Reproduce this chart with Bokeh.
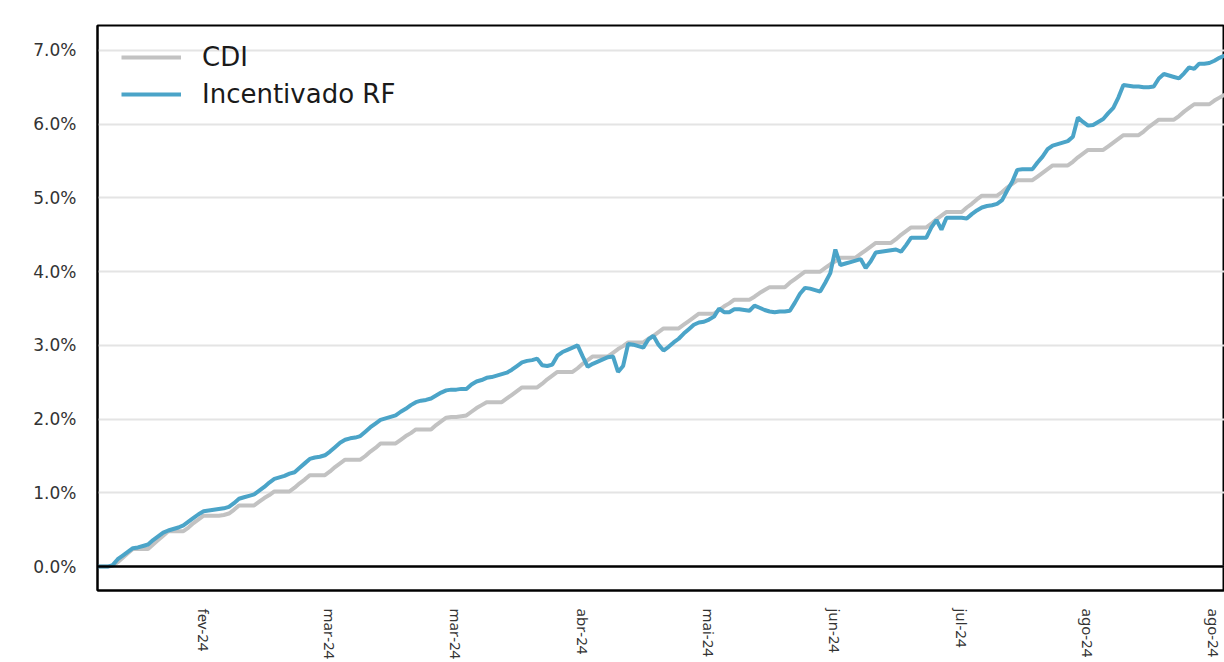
import pandas as pd
from bokeh.plotting import figure
from bokeh.models import (ColumnDataSource, Range1d, FixedTicker, PrintfTickFormatter,
                          CustomJSTickFormatter, Span, Legend, LegendItem)
from bokeh.embed import file_html
from bokeh.resources import INLINE

# ---------------- data (cumulative return, %) ----------------
start_date = "2024-01-19"   # daily (calendar-day) series

cdi = [
    0.00, 0.00, 0.00, 0.01, 0.06, 0.12, 0.18,
    0.24, 0.24, 0.24, 0.24, 0.30, 0.36, 0.42,
    0.48, 0.48, 0.48, 0.48, 0.53, 0.59, 0.64,
    0.69, 0.69, 0.69, 0.69, 0.70, 0.72, 0.77,
    0.83, 0.83, 0.83, 0.83, 0.88, 0.93, 0.97,
    1.02, 1.02, 1.02, 1.02, 1.07, 1.13, 1.18,
    1.24, 1.24, 1.24, 1.24, 1.29, 1.35, 1.40,
    1.45, 1.45, 1.45, 1.45, 1.50, 1.56, 1.61,
    1.67, 1.67, 1.67, 1.67, 1.72, 1.77, 1.81,
    1.86, 1.86, 1.86, 1.86, 1.92, 1.97, 2.02,
    2.03, 2.03, 2.04, 2.05, 2.10, 2.15, 2.19,
    2.23, 2.23, 2.23, 2.23, 2.28, 2.33, 2.38,
    2.43, 2.43, 2.43, 2.43, 2.48, 2.54, 2.59,
    2.64, 2.64, 2.64, 2.64, 2.69, 2.75, 2.80,
    2.85, 2.85, 2.85, 2.85, 2.90, 2.95, 2.99,
    3.04, 3.04, 3.04, 3.04, 3.09, 3.13, 3.18,
    3.23, 3.23, 3.23, 3.23, 3.28, 3.33, 3.38,
    3.43, 3.43, 3.43, 3.43, 3.48, 3.53, 3.57,
    3.62, 3.62, 3.62, 3.62, 3.66, 3.71, 3.75,
    3.79, 3.79, 3.79, 3.79, 3.85, 3.90, 3.95,
    4.00, 4.00, 4.00, 4.00, 4.05, 4.10, 4.14,
    4.19, 4.19, 4.19, 4.19, 4.24, 4.29, 4.34,
    4.39, 4.39, 4.39, 4.39, 4.44, 4.50, 4.55,
    4.60, 4.60, 4.60, 4.60, 4.65, 4.71, 4.76,
    4.81, 4.81, 4.81, 4.81, 4.87, 4.92, 4.98,
    5.03, 5.03, 5.03, 5.03, 5.08, 5.14, 5.19,
    5.24, 5.24, 5.24, 5.24, 5.29, 5.34, 5.39,
    5.44, 5.44, 5.44, 5.44, 5.49, 5.55, 5.60,
    5.65, 5.65, 5.65, 5.65, 5.70, 5.75, 5.80,
    5.85, 5.85, 5.85, 5.85, 5.90, 5.96, 6.01,
    6.06, 6.06, 6.06, 6.06, 6.11, 6.17, 6.22,
    6.27, 6.27, 6.27, 6.27, 6.32, 6.36, 6.40,
]

incentivado_rf = [
    0.00, 0.00, 0.00, 0.02, 0.10, 0.15, 0.20,
    0.25, 0.26, 0.28, 0.30, 0.36, 0.41, 0.46,
    0.49, 0.51, 0.53, 0.56, 0.61, 0.66, 0.71,
    0.75, 0.76, 0.77, 0.78, 0.79, 0.81, 0.86,
    0.92, 0.94, 0.96, 0.98, 1.03, 1.08, 1.14,
    1.19, 1.21, 1.23, 1.26, 1.28, 1.34, 1.40,
    1.46, 1.48, 1.49, 1.51, 1.56, 1.62, 1.68,
    1.72, 1.74, 1.75, 1.77, 1.83, 1.89, 1.94,
    1.99, 2.01, 2.03, 2.05, 2.10, 2.14, 2.19,
    2.23, 2.25, 2.26, 2.28, 2.32, 2.36, 2.39,
    2.40, 2.40, 2.41, 2.41, 2.47, 2.51, 2.53,
    2.56, 2.57, 2.59, 2.61, 2.63, 2.67, 2.72,
    2.77, 2.79, 2.80, 2.82, 2.73, 2.72, 2.74,
    2.86, 2.91, 2.94, 2.97, 3.00, 2.85, 2.71,
    2.75, 2.78, 2.81, 2.84, 2.85, 2.64, 2.72,
    3.02, 3.01, 2.99, 2.97, 3.08, 3.13, 3.01,
    2.93, 2.98, 3.04, 3.09, 3.16, 3.22, 3.28,
    3.31, 3.32, 3.35, 3.39, 3.50, 3.45, 3.45,
    3.49, 3.49, 3.48, 3.47, 3.54, 3.51, 3.48,
    3.46, 3.45, 3.46, 3.46, 3.47, 3.58, 3.70,
    3.78, 3.77, 3.75, 3.73, 3.85, 3.98, 4.30,
    4.09, 4.11, 4.13, 4.15, 4.17, 4.05, 4.14,
    4.26, 4.27, 4.28, 4.29, 4.30, 4.27, 4.36,
    4.46, 4.46, 4.46, 4.46, 4.60, 4.70, 4.57,
    4.73, 4.73, 4.73, 4.73, 4.72, 4.78, 4.83,
    4.87, 4.89, 4.90, 4.92, 4.97, 5.10, 5.22,
    5.38, 5.39, 5.39, 5.39, 5.48, 5.56, 5.66,
    5.71, 5.73, 5.75, 5.77, 5.83, 6.09, 6.03,
    5.98, 5.99, 6.03, 6.07, 6.15, 6.22, 6.36,
    6.53, 6.52, 6.51, 6.51, 6.50, 6.50, 6.51,
    6.62, 6.68, 6.66, 6.64, 6.62, 6.69, 6.77,
    6.75, 6.82, 6.82, 6.83, 6.86, 6.90, 6.93,
]

x_tick_dates = ["2024-02-09", "2024-03-05", "2024-03-30", "2024-04-24", "2024-05-19",
                "2024-06-13", "2024-07-08", "2024-08-02", "2024-08-27"]
month_names_pt = ["jan", "fev", "mar", "abr", "mai", "jun", "jul", "ago", "set", "out", "nov", "dez"]
y_ticks = [0, 1, 2, 3, 4, 5, 6, 7]
series_names = ["CDI", "Incentivado RF"]
series_colors = ["#c2c2c2", "#4ba4c8"]

# ---------------- figure ----------------
dates = pd.date_range(start_date, periods=len(cdi), freq="D")
src = ColumnDataSource(dict(date=dates, cdi=cdi, rf=incentivado_rf))

p = figure(width=1224, height=662, x_axis_type="datetime",
           output_backend="svg", toolbar_location=None,
           x_range=Range1d(dates[0].to_pydatetime(), dates[-1].to_pydatetime()),
           y_range=Range1d(-0.324, 7.338),
           min_border_left=97, min_border_right=0, min_border_top=25, min_border_bottom=70)

p.background_fill_color = "white"
p.border_fill_color = "white"
p.outline_line_color = "black"
p.outline_line_width = 2

# grid
p.xgrid.visible = False
p.ygrid.ticker = FixedTicker(ticks=y_ticks)
p.ygrid.grid_line_color = "#e4e4e4"
p.ygrid.grid_line_width = 2

# y axis
p.yaxis.ticker = FixedTicker(ticks=y_ticks)
p.yaxis.formatter = PrintfTickFormatter(format="%.1f%%")
p.yaxis.major_tick_line_color = None
p.yaxis.minor_tick_line_color = None
p.yaxis.major_tick_out = 0
p.yaxis.major_tick_in = 0
p.yaxis.major_label_standoff = 21
p.yaxis.major_label_text_font = "DejaVu Sans"
p.yaxis.major_label_text_font_size = "17px"
p.yaxis.major_label_text_color = "#333333"
p.yaxis.axis_line_color = "black"
p.yaxis.axis_line_width = 2

# x axis
p.xaxis.ticker = FixedTicker(ticks=[pd.Timestamp(d).value / 1e6 for d in x_tick_dates])
p.xaxis.formatter = CustomJSTickFormatter(args=dict(months=month_names_pt), code="""
    const d = new Date(tick);
    return months[d.getUTCMonth()] + '-' + String(d.getUTCFullYear()).slice(2);
""")
p.xaxis.major_label_orientation = "vertical"
p.xaxis.major_tick_line_color = None
p.xaxis.minor_tick_line_color = None
p.xaxis.major_tick_out = 0
p.xaxis.major_tick_in = 0
p.xaxis.major_label_standoff = 18
p.xaxis.major_label_text_font = "Noto Sans"
p.xaxis.major_label_text_font_size = "15px"
p.xaxis.major_label_text_color = "#333333"
p.xaxis.axis_line_color = "black"
p.xaxis.axis_line_width = 2

# zero line
p.add_layout(Span(location=0, dimension="width", line_color="black", line_width=2.5))

r_cdi = p.line("date", "cdi", source=src, line_color=series_colors[0], line_width=4)
r_rf = p.line("date", "rf", source=src, line_color=series_colors[1], line_width=4)

legend = Legend(items=[LegendItem(label=series_names[0], renderers=[r_cdi]),
                       LegendItem(label=series_names[1], renderers=[r_rf])],
                location=(24, 481), margin=0, padding=0,
                border_line_color=None, background_fill_alpha=0,
                label_text_font="DejaVu Sans", label_text_font_size="26px",
                label_text_color="#1a1a1a",
                glyph_width=60, glyph_height=30, label_height=30,
                spacing=7, label_standoff=21)
p.add_layout(legend)

open("out.html", "w").write(file_html(p, INLINE))
